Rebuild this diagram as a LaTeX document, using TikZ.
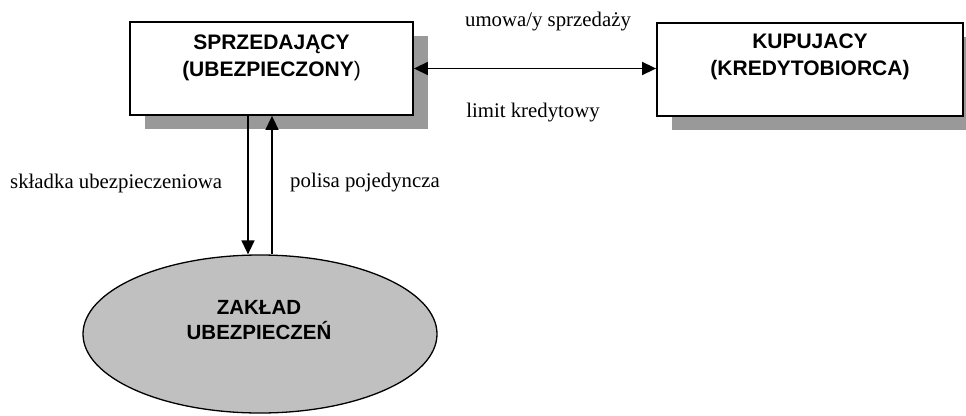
\documentclass[tikz,border=0pt]{standalone}
\usepackage{fontspec}
\setmainfont{Liberation Serif}
\newfontfamily\headfont{Liberation Sans}
\usetikzlibrary{shapes.geometric,shadows,arrows.meta}

\definecolor{shadowgray}{HTML}{999999}
\definecolor{ellfill}{HTML}{C0C0C0}

\tikzset{
  partybox/.style={draw=black, line width=1.8pt, fill=white, inner sep=0pt,
    drop shadow={shadow xshift=15pt, shadow yshift=-14pt, fill=shadowgray, opacity=1}},
  headtext/.style={font=\headfont\bfseries\fontsize{21}{27}\selectfont, align=center, inner sep=0pt},
  flowlabel/.style={font=\fontsize{20.8}{24}\selectfont, inner sep=0pt},
  arr/.style={line width=1.5pt, -{Triangle[length=14pt, width=13pt]}},
  arrboth/.style={line width=1.5pt, {Triangle[length=14pt, width=13pt]}-{Triangle[length=14pt, width=13pt]}},
  insurer/.style={ellipse, draw=black, line width=1.3pt, fill=ellfill,
    minimum width=354pt, minimum height=158pt, inner sep=0pt}
}

\begin{document}
\begin{tikzpicture}[x=1pt, y=-1pt]
  \useasboundingbox (0,0) rectangle (966,415);

  % the two parties of the sale
  \node[partybox, minimum width=283pt, minimum height=93pt] (seller) at (271.5,68.5) {};
  \node[partybox, minimum width=306pt, minimum height=93pt] (buyer) at (810,69.5) {};
  \node[headtext] (sellertxt) at (271.5,57.5) {SPRZEDAJĄCY\\(UBEZPIECZONY{\mdseries)}};
  \node[headtext] (buyertxt) at (810,56.5) {KUPUJACY\\(KREDYTOBIORCA)};

  % the insurer
  \node[insurer] (insurer) at (260,334) {};
  \node[headtext, font=\headfont\bfseries\fontsize{20.5}{24.5}\selectfont] (insurertxt) at (259,320) {ZAKŁAD\\UBEZPIECZEŃ};

  % connectors
  \draw[arrboth] (seller.east) -- (seller.east -| buyer.west);

  \coordinate (downx) at (248,0);
  \coordinate (upx) at (272,0);
  \draw[arr] (seller.south -| downx) -- (insurer.north -| downx);
  \draw[arr] (insurer.north -| upx) -- (seller.south -| upx);

  % connector labels
  \node[flowlabel] (lsale) at (548,22) {umowa/y sprzedaży};
  \node[flowlabel] (llimit) at (533,113) {limit kredytowy};
  \node[flowlabel, anchor=west] (lprem) at (10,183) {składka ubezpieczeniowa};
  \node[flowlabel, anchor=west] (lpolicy) at (290,183) {polisa pojedyncza};
\end{tikzpicture}
\end{document}
